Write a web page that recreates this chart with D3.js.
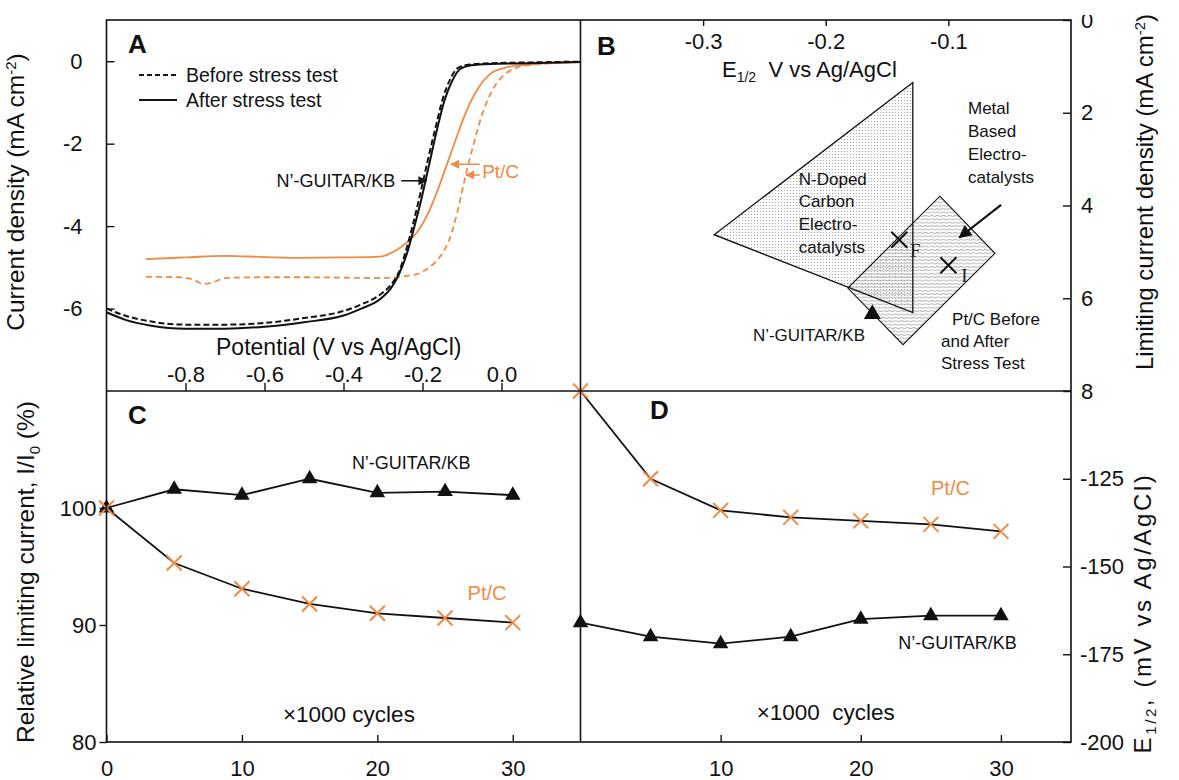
<!DOCTYPE html>
<html>
<head>
<meta charset="utf-8">
<script src="https://cdn.jsdelivr.net/npm/d3@7"></script>
<style>
  body { margin: 0; background: #fff; }
  svg { font-family: "Liberation Sans", Arial, sans-serif; }
  .tick text { font-size: 22px; fill: #111; }
  .tick line { stroke: #111; stroke-width: 1.4px; }
</style>
</head>
<body>
<div id="my_dataviz"></div>
<script>
var width = 1179,
    height = 780

var orange = "#f08a45"

// panel A : polarisation curves, [potential V vs Ag/AgCl, current density mA cm-2]
var kbBefore = [[-1.0,-6.0],[-0.95,-6.18],[-0.89,-6.31],[-0.8,-6.39],[-0.7,-6.39],[-0.6,-6.35],[-0.5,-6.23],[-0.4,-6.06],[-0.355,-5.9],[-0.307,-5.66],[-0.278,-5.4],[-0.259,-5.1],[-0.242,-4.6],[-0.224,-3.95],[-0.206,-3.23],[-0.187,-2.42],[-0.167,-1.61],[-0.148,-0.89],[-0.129,-0.42],[-0.11,-0.16],[-0.081,-0.08],[-0.03,-0.05],[0.066,-0.03],[0.2,-0.01]]
var kbAfter = [[-1.0,-6.09],[-0.95,-6.28],[-0.89,-6.41],[-0.8,-6.49],[-0.7,-6.49],[-0.6,-6.44],[-0.5,-6.33],[-0.4,-6.17],[-0.355,-6.0],[-0.307,-5.77],[-0.278,-5.48],[-0.259,-5.16],[-0.24,-4.68],[-0.221,-4.03],[-0.202,-3.31],[-0.183,-2.5],[-0.164,-1.69],[-0.145,-0.97],[-0.125,-0.48],[-0.106,-0.2],[-0.077,-0.1],[-0.03,-0.065],[0.066,-0.05],[0.2,-0.02]]
var ptBefore = [[-0.9,-5.23],[-0.813,-5.24],[-0.78,-5.3],[-0.756,-5.4],[-0.73,-5.36],[-0.7,-5.26],[-0.6,-5.24],[-0.507,-5.24],[-0.4,-5.25],[-0.317,-5.26],[-0.221,-5.18],[-0.183,-5.0],[-0.154,-4.72],[-0.13,-4.27],[-0.111,-3.63],[-0.092,-2.82],[-0.073,-2.1],[-0.049,-1.29],[-0.02,-0.65],[0.008,-0.32],[0.037,-0.16],[0.066,-0.1],[0.2,-0.02]]
var ptAfter = [[-0.9,-4.8],[-0.8,-4.76],[-0.7,-4.72],[-0.6,-4.75],[-0.51,-4.77],[-0.4,-4.76],[-0.307,-4.74],[-0.269,-4.6],[-0.24,-4.4],[-0.211,-4.11],[-0.183,-3.63],[-0.159,-3.06],[-0.135,-2.42],[-0.111,-1.77],[-0.087,-1.17],[-0.059,-0.65],[-0.03,-0.32],[0.008,-0.16],[0.066,-0.08],[0.2,-0.02]]
var ticksAx = [-0.8, -0.6, -0.4, -0.2, 0.0]
var ticksAy = [0, -2, -4, -6]

// panel B : E1/2 (V) vs limiting current density (mA cm-2)
var carbonRegion = [[-0.129, 1.35], [-0.291, 4.63], [-0.129, 6.31]]
var metalRegion = [[-0.107, 3.8], [-0.062, 5.03], [-0.137, 7.0], [-0.182, 5.78]]
var ptPoints = [[-0.100, 5.29], [-0.140, 4.74]]
var ptPointNames = ["I", "F"]
var kbPoint = [-0.162, 6.34]
var ticksBx = [-0.3, -0.2, -0.1]
var ticksBy = [0, 2, 4, 6, 8]

// panels C and D : stress test, x1000 cycles
var cycles = [0, 5, 10, 15, 20, 25, 30]
var kbRelative = [100, 101.6, 101.1, 102.5, 101.3, 101.4, 101.1]
var ptRelative = [100, 95.3, 93.1, 91.8, 91.0, 90.6, 90.2]
var kbHalfWave = [-166, -170, -172, -170, -165, -164, -164]
var ptHalfWave = [-100, -125, -134, -136, -137, -138, -140]
var ticksCx = [0, 10, 20, 30]
var ticksCy = [80, 90, 100]
var ticksDx = [10, 20, 30]
var ticksDy = [-125, -150, -175, -200]

var frameL = 106.5, frameM = 580.5, frameR = 1071,
    frameT = 20, frameH = 391, frameB = 742

var xA = d3.scaleLinear().domain([-1, 0.2]).range([frameL, frameM])
var yA = d3.scaleLinear().domain([-8, 1]).range([frameH, frameT])
var xB = d3.scaleLinear().domain([-0.4, 0]).range([frameM, frameR])
var yB = d3.scaleLinear().domain([0, 8]).range([frameT, frameH])
var xC = d3.scaleLinear().domain([0, 35]).range([frameL, frameM])
var yC = d3.scaleLinear().domain([80, 110]).range([frameB, frameH])
var xD = d3.scaleLinear().domain([0, 35]).range([frameM, frameR])
var yD = d3.scaleLinear().domain([-200, -100]).range([frameB, frameH])

var svg = d3.select("#my_dataviz")
  .append("svg")
    .attr("width", width)
    .attr("height", height)

var defs = svg.append("defs")

function arrowHead(id, color) {
  defs.append("marker")
      .attr("id", id)
      .attr("viewBox", "0 0 10 10")
      .attr("refX", 9)
      .attr("refY", 5)
      .attr("markerWidth", 6)
      .attr("markerHeight", 6)
      .attr("orient", "auto")
    .append("path")
      .attr("d", "M0,0L10,5L0,10z")
      .attr("fill", color)
}
arrowHead("arrowBlack", "#111")
arrowHead("arrowOrange", orange)

var dots = defs.append("pattern")
    .attr("id", "dots")
    .attr("width", 3).attr("height", 3)
    .attr("patternUnits", "userSpaceOnUse")
dots.append("rect").attr("width", 3).attr("height", 3).attr("fill", "#fff")
dots.append("circle").attr("cx", 1.5).attr("cy", 1.5).attr("r", 0.6).attr("fill", "#9a9a9a")

var waves = defs.append("pattern")
    .attr("id", "waves")
    .attr("width", 6).attr("height", 3.4)
    .attr("patternUnits", "userSpaceOnUse")
waves.append("path")
    .attr("d", "M0,1.7 Q1.5,0.8 3,1.7 T6,1.7")
    .attr("fill", "none")
    .attr("stroke", "#8e8e8e")
    .attr("stroke-width", 0.8)

function noDomain(g) { g.select(".domain").remove() }
function plain(d) { return String(d) }
function oneDec(d) { return d.toFixed(1) }

function text(x, y, s, size, anchor, color) {
  return svg.append("text")
    .attr("x", x)
    .attr("y", y)
    .attr("font-size", size)
    .attr("text-anchor", anchor || "start")
    .attr("fill", color || "#111")
    .text(s)
}

// ---------- panel A ----------
var lineA = d3.line()
  .x(function(d) { return xA(d[0]) })
  .y(function(d) { return yA(d[1]) })
  .curve(d3.curveMonotoneX)

var curvesA = [
  {data: ptBefore, color: orange, dash: "6,4", w: 1.8},
  {data: ptAfter, color: orange, dash: null, w: 1.8},
  {data: kbBefore, color: "#111", dash: "6,3", w: 2},
  {data: kbAfter, color: "#111", dash: null, w: 2}
]

svg.selectAll("curveA")
  .data(curvesA)
  .enter()
  .append("path")
    .attr("d", function(d) { return lineA(d.data) })
    .attr("fill", "none")
    .attr("stroke", function(d) { return d.color })
    .attr("stroke-width", function(d) { return d.w })
    .attr("stroke-dasharray", function(d) { return d.dash })

svg.append("g")
  .attr("transform", "translate(0," + frameH + ")")
  .call(d3.axisTop(xA).tickValues(ticksAx).tickSize(8).tickPadding(1).tickFormat(oneDec))
  .call(noDomain)

svg.append("g")
  .attr("transform", "translate(" + frameL + ",0)")
  .call(d3.axisLeft(yA).tickValues(ticksAy).tickSizeInner(-8).tickSizeOuter(0).tickPadding(24).tickFormat(plain))
  .call(noDomain)

// legend
var legendA = [{name: "Before stress test", dash: "5,3"}, {name: "After stress test", dash: null}]
legendA.forEach(function(d, i) {
  svg.append("line")
    .attr("x1", 139).attr("x2", 177)
    .attr("y1", 75 + i * 25).attr("y2", 75 + i * 25)
    .attr("stroke", "#111")
    .attr("stroke-width", 2)
    .attr("stroke-dasharray", d.dash)
  text(186, 82 + i * 25, d.name, 19.5)
})

text(xA(-0.269), yA(-2.9) + 6, "N\u2019-GUITAR/KB", 18, "end")
svg.append("line")
  .attr("x1", xA(-0.254)).attr("x2", xA(-0.19))
  .attr("y1", yA(-2.9)).attr("y2", yA(-2.9))
  .attr("stroke", "#111").attr("stroke-width", 1.5)
  .attr("marker-end", "url(#arrowBlack)")

text(xA(-0.049), yA(-2.66) + 7, "Pt/C", 19, "start", orange)
svg.append("line")
  .attr("x1", xA(-0.055)).attr("x2", xA(-0.128))
  .attr("y1", yA(-2.5)).attr("y2", yA(-2.5))
  .attr("stroke", orange).attr("stroke-width", 1.5)
  .attr("marker-end", "url(#arrowOrange)")
svg.append("line")
  .attr("x1", xA(-0.055)).attr("x2", xA(-0.09))
  .attr("y1", yA(-2.76)).attr("y2", yA(-2.76))
  .attr("stroke", orange).attr("stroke-width", 1.5)
  .attr("marker-end", "url(#arrowOrange)")

text(xA(-0.412), yA(-6.94) + 8, "Potential (V vs Ag/AgCl)", 23, "middle")

// ---------- panel B ----------
var polyB = function(pts) {
  return "M" + pts.map(function(d) { return xB(d[0]) + "," + yB(d[1]) }).join("L") + "Z"
}

svg.append("path").attr("d", polyB(carbonRegion)).attr("fill", "url(#dots)")
svg.append("path").attr("d", polyB(metalRegion)).attr("fill", "url(#waves)")
svg.append("path").attr("d", polyB(carbonRegion)).attr("fill", "none").attr("stroke", "#111").attr("stroke-width", 1.3)
svg.append("path").attr("d", polyB(metalRegion)).attr("fill", "none").attr("stroke", "#111").attr("stroke-width", 1.1)

svg.selectAll("ptB")
  .data(ptPoints)
  .enter()
  .append("path")
    .attr("transform", function(d) { return "translate(" + xB(d[0]) + "," + yB(d[1]) + ")" })
    .attr("d", "M-8,-8L8,8M-8,8L8,-8")
    .attr("stroke", "#111")
    .attr("stroke-width", 2)

svg.selectAll("ptBname")
  .data(ptPoints)
  .enter()
  .append("text")
    .attr("x", function(d) { return xB(d[0]) + 16 })
    .attr("y", function(d) { return yB(d[1]) + 17 })
    .attr("font-family", "Liberation Serif, Times New Roman, serif")
    .attr("font-size", 19)
    .attr("text-anchor", "middle")
    .attr("fill", "#222")
    .text(function(d, i) { return ptPointNames[i] })

svg.append("path")
  .attr("transform", "translate(" + xB(kbPoint[0]) + "," + yB(kbPoint[1]) + ")")
  .attr("d", d3.symbol(d3.symbolTriangle, 125)())
  .attr("fill", "#111")

var carbonLines = ["N-Doped", "Carbon", "Electro-", "catalysts"]
carbonLines.forEach(function(s, i) {
  text(xB(-0.222), yB(3.42 + i * 0.49) + 6, s, 17)
})
var metalLines = ["Metal", "Based", "Electro-", "catalysts"]
metalLines.forEach(function(s, i) {
  text(xB(-0.084), yB(1.905 + i * 0.49) + 6, s, 17)
})
var ptcLines = ["Pt/C Before", "and After", "Stress Test"]
ptcLines.forEach(function(s, i) {
  text(xB(i == 0 ? -0.097 : -0.106), yB(6.44 + i * 0.48) + 6, s, 17)
})
text(xB(-0.2137), yB(6.8) + 6, "N\u2019-GUITAR/KB", 17, "middle")

svg.append("line")
  .attr("x1", xB(-0.057)).attr("y1", yB(3.985))
  .attr("x2", xB(-0.091)).attr("y2", yB(4.69))
  .attr("stroke", "#111").attr("stroke-width", 2.2)
  .attr("marker-end", "url(#arrowBlack)")

var titleB = svg.append("text")
  .attr("x", 722).attr("y", 77)
  .attr("font-size", 22)
  .attr("fill", "#111")
titleB.append("tspan").text("E")
titleB.append("tspan").attr("dy", 5).attr("font-size", 14).text("1/2")
titleB.append("tspan").attr("dy", -5).style("white-space", "pre").text("  V vs Ag/AgCl")

svg.append("g")
  .attr("transform", "translate(0," + frameT + ")")
  .call(d3.axisBottom(xB).tickValues(ticksBx).tickSizeInner(6).tickSizeOuter(0).tickPadding(7).tickFormat(oneDec))
  .call(noDomain)

svg.append("g")
  .attr("transform", "translate(" + frameR + ",0)")
  .call(d3.axisRight(yB).tickValues(ticksBy).tickSizeInner(-8).tickSizeOuter(0).tickPadding(10).tickFormat(plain))
  .call(noDomain)

// the "0" label is cut by the top edge of the original figure
svg.append("rect").attr("x", frameR + 4).attr("y", 0).attr("width", 30).attr("height", 15).attr("fill", "#fff")

// ---------- panels C and D ----------
function stressPanel(x, y, kb, pt) {
  var line = d3.line()
    .x(function(d, i) { return x(cycles[i]) })
    .y(function(d) { return y(d) })

  svg.append("path").attr("d", line(kb)).attr("fill", "none").attr("stroke", "#111").attr("stroke-width", 1.8)
  svg.append("path").attr("d", line(pt)).attr("fill", "none").attr("stroke", "#111").attr("stroke-width", 1.8)

  svg.selectAll(null)
    .data(kb)
    .enter()
    .append("path")
      .attr("transform", function(d, i) { return "translate(" + x(cycles[i]) + "," + y(d) + ")" })
      .attr("d", d3.symbol(d3.symbolTriangle, 105)())
      .attr("fill", "#111")

  svg.selectAll(null)
    .data(pt)
    .enter()
    .append("path")
      .attr("transform", function(d, i) { return "translate(" + x(cycles[i]) + "," + y(d) + ")" })
      .attr("d", "M-7.5,-7.5L7.5,7.5M-7.5,7.5L7.5,-7.5")
      .attr("stroke", orange)
      .attr("stroke-width", 2)
}

stressPanel(xC, yC, kbRelative, ptRelative)
stressPanel(xD, yD, kbHalfWave, ptHalfWave)

text(xC(22.5), yC(103.85) + 6, "N\u2019-GUITAR/KB", 18, "middle")
text(xC(28.1), yC(92.7) + 7, "Pt/C", 20, "middle", orange)
text(xC(17.9), yC(82.4) + 8, "\u00d71000 cycles", 22.5, "middle")

text(xD(26.4), yD(-127.6) + 7, "Pt/C", 20, "middle", orange)
text(xD(26.9), yD(-171.8) + 6, "N\u2019-GUITAR/KB", 18, "middle")
text(xD(17.5), yD(-191.5) + 8, "\u00d71000  cycles", 22.5, "middle").style("white-space", "pre")

svg.append("g")
  .attr("transform", "translate(" + frameL + ",0)")
  .call(d3.axisLeft(yC).tickValues(ticksCy).tickSizeInner(7).tickSizeOuter(0).tickPadding(3).tickFormat(plain))
  .call(noDomain)

svg.append("g")
  .attr("transform", "translate(0," + frameB + ")")
  .call(d3.axisBottom(xC).tickValues(ticksCx).tickSizeInner(-7).tickSizeOuter(0).tickPadding(18).tickFormat(plain))
  .call(noDomain)

svg.append("g")
  .attr("transform", "translate(0," + frameB + ")")
  .call(d3.axisBottom(xD).tickValues(ticksDx).tickSizeInner(-7).tickSizeOuter(0).tickPadding(18).tickFormat(plain))
  .call(noDomain)

svg.append("g")
  .attr("transform", "translate(" + frameR + ",0)")
  .call(d3.axisRight(yD).tickValues(ticksDy).tickSizeInner(-8).tickSizeOuter(0).tickPadding(9).tickFormat(plain))
  .call(noDomain)

// ---------- panel letters ----------
var letters = [["A", 128, 53], ["B", 597, 55], ["C", 128, 424], ["D", 650, 419]]
letters.forEach(function(d) {
  text(d[1], d[2], d[0], 26).attr("font-weight", "bold")
})

// ---------- axis titles ----------
function vTitle(x, y, size, spacing, parts) {
  var t = svg.append("text")
    .attr("transform", "translate(" + x + "," + y + ") rotate(-90)")
    .attr("text-anchor", "middle")
    .attr("dy", "0.35em")
    .attr("font-size", size)
    .attr("letter-spacing", spacing)
    .attr("fill", "#111")
  parts.forEach(function(p) {
    t.append("tspan")
      .attr("dy", p.dy || 0)
      .attr("font-size", p.size || null)
      .text(p.s)
  })
}

vTitle(24, 192, 24.5, 0, [{s: "Current density (mA cm"}, {s: "-2", dy: -8, size: 15}, {s: ")", dy: 8}])
vTitle(34, 572, 24.5, 0, [{s: "Relative limiting current, I/I"}, {s: "0", dy: 6, size: 15}, {s: " (%)", dy: -6}])
vTitle(1153, 192, 24, 0, [{s: "Limiting current density (mA cm"}, {s: "-2", dy: -8, size: 15}, {s: ")", dy: 8}])
vTitle(1151, 613, 24, 2.6, [{s: "E"}, {s: "1/2", dy: 5, size: 15}, {s: ", (mV vs Ag/AgCl)", dy: -5}])

// ---------- frames ----------
svg.append("rect")
  .attr("x", frameL).attr("y", frameT)
  .attr("width", frameR - frameL).attr("height", frameB - frameT)
  .attr("fill", "none").attr("stroke", "#111").attr("stroke-width", 1.6)
svg.append("line")
  .attr("x1", frameM).attr("x2", frameM).attr("y1", frameT).attr("y2", frameB)
  .attr("stroke", "#111").attr("stroke-width", 1.6)
svg.append("line")
  .attr("x1", frameL).attr("x2", frameR).attr("y1", frameH).attr("y2", frameH)
  .attr("stroke", "#111").attr("stroke-width", 1.6)
</script>
</body>
</html>
